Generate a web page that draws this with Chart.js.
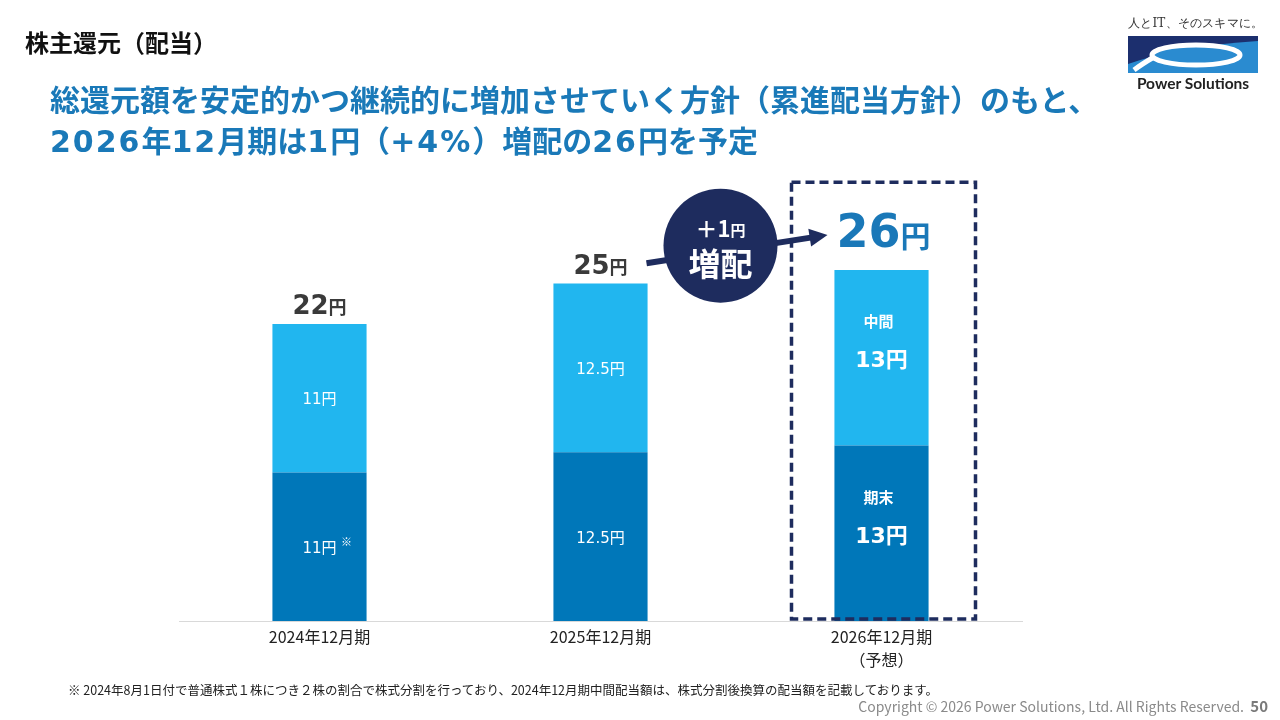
<!DOCTYPE html>
<html lang="ja">
<head>
<meta charset="utf-8">
<script src="https://cdn.jsdelivr.net/npm/chart.js@4.4.1/dist/chart.umd.min.js"></script>
<style>
  html, body { margin:0; padding:0; background:#fff; }
  #page { position:relative; width:1280px; height:720px; overflow:hidden; font-family:"Noto Sans CJK JP","Noto Sans",sans-serif; }
  #page canvas { position:absolute; left:0; top:0; }
  .t { position:absolute; white-space:nowrap; }
  #ttl { left:25px; top:25px; font-size:24px; font-weight:700; color:#111; line-height:34px; }
  #sub { left:50px; top:79px; font-size:30px; font-weight:700; color:#1a79b8; line-height:38px;
         font-family:"DejaVu Sans","Noto Sans CJK JP",sans-serif; }
  #sub span { font-family:"Noto Sans CJK JP",sans-serif; }
  #sub i { font-style:normal; letter-spacing:2px; }
  #note { left:68px; top:680px; font-size:12.5px; color:#222; }
  #copy { right:12px; top:695px; font-size:14px; color:#8a8a8a; }
  #copy b { color:#7a7a7a; font-size:15px; }
  #logo { left:1120px; top:10px; }
</style>
</head>
<body>
<div id="page">
  <canvas id="divChart" width="1280" height="720"></canvas>
  <div class="t" id="ttl">株主還元（配当）</div>
  <div class="t" id="sub"><span>総還元額を安定的かつ継続的に増加させていく方針（累進配当方針）のもと、</span><br><i>2026</i><span>年</span><i>12</i><span>月期は</span><i>1</i><span>円（</span><i>+4%</i><span>）増配の</span><i>26</i><span>円を予定</span></div>
  <div class="t" id="note">※ 2024年8月1日付で普通株式１株につき２株の割合で株式分割を行っており、2024年12月期中間配当額は、株式分割後換算の配当額を記載しております。</div>
  <div class="t" id="copy">Copyright © 2026 Power Solutions, Ltd. All Rights Reserved.&nbsp; <b>50</b></div>
  <svg class="t" id="logo" width="150" height="84" viewBox="0 0 150 84">
    <text x="8" y="17" font-family="DejaVu Serif, serif" font-size="12" letter-spacing="0.2" fill="#333">人とIT、そのスキマに。</text>
    <rect x="8" y="26" width="130" height="37" fill="#1c2f6e"/>
    <path d="M8,63 L8,54 Q60,36 138,31 L138,63 Z" fill="#2a8bd0"/>
    <ellipse cx="76" cy="45" rx="44" ry="10" fill="#2a8bd0" stroke="#fff" stroke-width="5"/>
    <path d="M34,47 Q22,54 14,60" stroke="#fff" stroke-width="5" fill="none"/>
    <text x="73" y="79" text-anchor="middle" font-family="Lato, sans-serif" font-weight="700" font-size="15.5" fill="#222">Power Solutions</text>
  </svg>
</div>
<script>
// categories and values
var categories = [['2024年12月期'], ['2025年12月期'], ['2026年12月期', '（予想）']];
var yearEnd    = [11, 12.5, 13];   // 期末 (bottom, dark)
var interim    = [11, 12.5, 13];   // 中間 (top, light)
var totals     = [22, 25, 26];

var dark = '#0077b9', light = '#21b6ef', navy = '#1e2c5e';
var jp = '"Noto Sans CJK JP", sans-serif';
var num = '"DejaVu Sans", "Noto Sans CJK JP", sans-serif';

function fmt(v) { return v + '円'; }

// value labels, totals, the +1円 bubble and the forecast box
var overlay = {
    id: 'overlay',
    afterDatasetsDraw: function (chart) {
        var ctx = chart.ctx, xs = chart.scales.x, ys = chart.scales.y;
        var last = categories.length - 1;
        ctx.save();
        ctx.textAlign = 'center';
        ctx.textBaseline = 'middle';
        ctx.fillStyle = '#fff';

        chart.data.datasets.forEach(function (ds, di) {
            chart.getDatasetMeta(di).data.forEach(function (el, i) {
                var cy = (el.y + el.base) / 2;
                if (i === last) {
                    ctx.font = 'bold 15px ' + jp;
                    ctx.fillText(di === 0 ? '期末' : '中間', el.x - 3, cy - 36);
                    ctx.font = 'bold 22px ' + num;
                    ctx.fillText(fmt(ds.data[i]), el.x, cy + 4);
                } else {
                    ctx.font = '15px ' + num;
                    ctx.fillText(fmt(ds.data[i]), el.x, cy + 2);
                    if (di === 0 && i === 0) {
                        ctx.font = '11px ' + jp;
                        ctx.fillText('※', el.x + 27, cy - 5);
                    }
                }
            });
        });

        // totals above bars
        totals.forEach(function (t, i) {
            var x = xs.getPixelForValue(i), y = ys.getPixelForValue(t);
            var big = i === last;
            var numFont = big ? 'bold 46px ' + num : 'bold 26px ' + num;
            var yenFont = big ? 'bold 30px ' + jp : 'bold 18px ' + jp;
            ctx.fillStyle = big ? '#1a78b8' : '#3a3a3a';
            ctx.font = numFont; var w1 = ctx.measureText(String(t)).width;
            ctx.font = yenFont; var w2 = ctx.measureText('円').width;
            var x0 = x - (w1 + w2) / 2 + (big ? 2 : 0);
            var by = big ? y - 23 : y - 10;
            ctx.textAlign = 'left';
            ctx.textBaseline = 'alphabetic';
            ctx.font = numFont; ctx.fillText(String(t), x0, by);
            ctx.font = yenFont; ctx.fillText('円', x0 + w1, by);
            ctx.textAlign = 'center';
            ctx.textBaseline = 'middle';
        });

        // arrow from 25円 to 26円
        var x1 = xs.getPixelForValue(1), x2 = xs.getPixelForValue(2);
        var ax0 = x1 + 46, ay0 = ys.getPixelForValue(26.5);
        var ax1 = x2 - 54, ay1 = ys.getPixelForValue(28.6);
        ctx.strokeStyle = navy; ctx.fillStyle = navy; ctx.lineWidth = 6;
        ctx.beginPath(); ctx.moveTo(ax0, ay0); ctx.lineTo(ax1 - 12, ay1 + 2); ctx.stroke();
        var ang = Math.atan2(ay1 - ay0, ax1 - ax0);
        ctx.beginPath();
        ctx.moveTo(ax1, ay1);
        ctx.lineTo(ax1 - 18 * Math.cos(ang) + 9 * Math.sin(ang), ay1 - 18 * Math.sin(ang) - 9 * Math.cos(ang));
        ctx.lineTo(ax1 - 18 * Math.cos(ang) - 9 * Math.sin(ang), ay1 - 18 * Math.sin(ang) + 9 * Math.cos(ang));
        ctx.closePath(); ctx.fill();

        // bubble
        var cx = x1 + (x2 - x1) * 0.427, ccy = ys.getPixelForValue(27.8);
        ctx.beginPath(); ctx.arc(cx, ccy, 57, 0, Math.PI * 2); ctx.fill();
        ctx.fillStyle = '#fff';
        ctx.textAlign = 'left'; ctx.textBaseline = 'alphabetic';
        ctx.font = 'bold 22px ' + jp;
        var wp = ctx.measureText('＋1').width;
        ctx.font = 'bold 15px ' + jp;
        var wy = ctx.measureText('円').width;
        var px = cx - (wp + wy) / 2;
        ctx.font = 'bold 22px ' + jp; ctx.fillText('＋1', px, ccy - 9);
        ctx.font = 'bold 15px ' + jp; ctx.fillText('円', px + wp, ccy - 10);
        ctx.textAlign = 'center';
        ctx.font = 'bold 32px ' + jp; ctx.fillText('増配', cx, ccy + 30);

        // dashed forecast box
        ctx.strokeStyle = navy; ctx.lineWidth = 3.5; ctx.setLineDash([9, 5]);
        var top = ys.getPixelForValue(32.5), bot = ys.getPixelForValue(0) - 2;
        ctx.strokeRect(x2 - 90, top, 184, bot - top);
        ctx.restore();
    }
};

new Chart(document.getElementById('divChart'), {
    type: 'bar',
    data: {
        labels: categories,
        datasets: [
            { label: '期末', data: yearEnd, backgroundColor: dark, borderWidth: 0 },
            { label: '中間', data: interim, backgroundColor: light, borderWidth: 0 }
        ]
    },
    options: {
        responsive: false, animation: false, devicePixelRatio: 1,
        layout: { padding: { left: 179, right: 258, top: 216, bottom: 49 } },
        datasets: { bar: { categoryPercentage: 1, barPercentage: 0.335 } },
        plugins: { legend: { display: false }, tooltip: { enabled: false } },
        scales: {
            x: { stacked: true,
                 grid: { display: false, drawTicks: false },
                 border: { display: true, color: '#d9d9d9', width: 1 },
                 ticks: { color: '#222', padding: 5, font: { family: jp, size: 16, lineHeight: 1.4 } },
                 afterFit: function (s) { s.height = 50; } },
            y: { stacked: true, display: false, min: 0, max: 30 }
        }
    },
    plugins: [overlay]
});
</script>
</body>
</html>
